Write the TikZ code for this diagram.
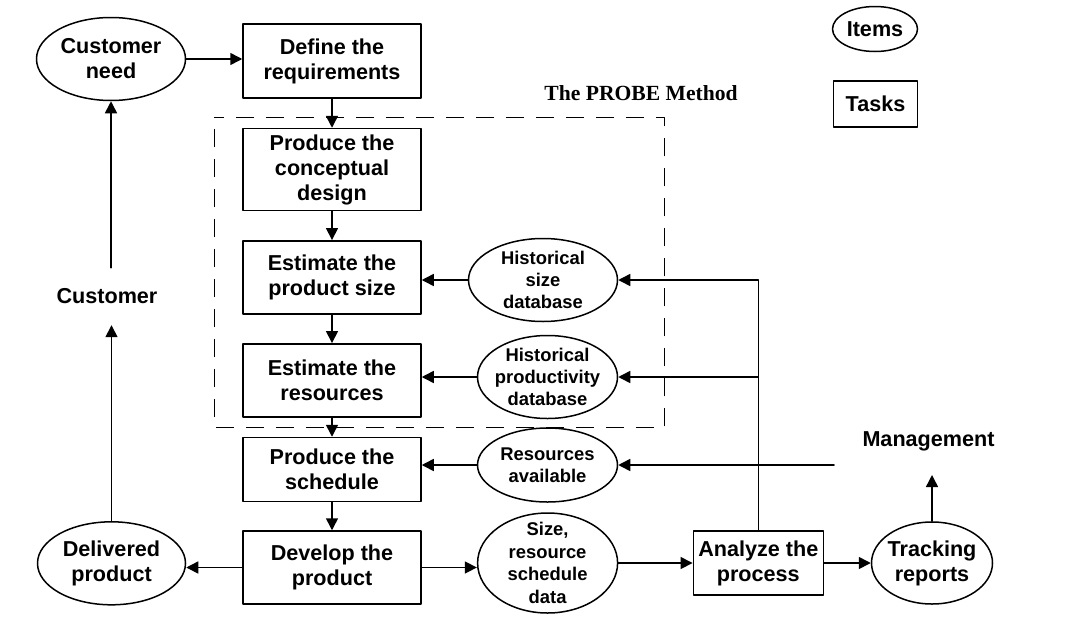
\documentclass[tikz,border=0pt]{standalone}
\usepackage{fontspec}
\setmainfont{Liberation Sans}
\newfontfamily\titlefont{Liberation Serif}
\usepackage{pgf,tikz}
\usetikzlibrary{arrows.meta, shapes.geometric}
\usetikzlibrary{positioning}

\begin{document}
\begin{tikzpicture}[line cap=round,line join=round,>={Triangle[length=12pt,width=12pt]},x=1pt,y=1pt]
  \tikzset{
  % style for the task boxes
  task/.style={draw, line width=1.5pt, rectangle, align=center, inner sep=2pt,
    minimum width=178pt, font=\fontsize{21.6}{25}\selectfont\bfseries},
  % style for the item ellipses (size set by minimum width/height)
  item/.style={draw, line width=1.5pt, ellipse, align=center, inner xsep=-30pt,
    inner ysep=-20pt, font=\fontsize{21.6}{25}\selectfont\bfseries},
  data/.style={item, font=\fontsize{18.4}{22.4}\selectfont\bfseries},
  flow/.style={->, line width=1.5pt},
  plain/.style={font=\fontsize{21.6}{25}\selectfont\bfseries, inner sep=0pt},
}
\useasboundingbox (0,0) rectangle (1067,-624);

\draw[line width=1pt, line cap=butt, dash pattern=on 18pt off 12pt, dash phase=18pt] (214.3,-117.3) rectangle (664.6,-427.7);
\node[plain, font=\titlefont\fontsize{21.6}{25}\selectfont\bfseries] (probe) at (641,-93) {The PROBE Method};

\node[item, minimum width=149pt, minimum height=83pt] (cneed) at (111,-59) {Customer\\need};
\node[task, minimum height=74pt] (defreq) at (332,-61) {Define the\\requirements};
\node[task, minimum height=82pt] (concept) at (332,-169.5) {Produce the\\conceptual\\design};
\node[task, minimum height=73pt] (estsize) at (332,-277.3) {Estimate the\\product size};
\node[task, minimum height=73pt] (estres) at (332,-380.3) {Estimate the\\resources};
\node[task, minimum height=64pt] (sched) at (332,-469.5) {Produce the\\schedule};
\node[task, minimum height=73pt] (develop) at (332,-567.5) {Develop the\\product};
\node[item, minimum width=148pt, minimum height=83pt] (delivered) at (111.5,-563.3) {Delivered\\product};

\node[data, minimum width=149pt, minimum height=83pt] (histsize) at (543,-280) {Historical\\size\\database};
\node[data, minimum width=140pt, minimum height=83pt] (histprod) at (547.5,-377) {Historical\\productivity\\database};
\node[data, minimum width=140pt, minimum height=74pt] (resavail) at (547.5,-465) {Resources\\available};
\node[data, minimum width=140pt, minimum height=100pt] (sizedata) at (547.6,-563) {Size,\\resource\\schedule\\data};

\node[task, minimum width=130pt, minimum height=64pt] (analyze) at (758.3,-563) {Analyze the\\process};
\node[item, minimum width=121pt, minimum height=82pt] (tracking) at (932,-563) {Tracking\\reports};

\node[item, minimum width=85pt, minimum height=45pt] (items) at (875,-29) {Items};
\node[task, minimum width=84pt, minimum height=46pt] (tasks) at (875.5,-104) {Tasks};

\node[plain, minimum height=57pt] (customer) at (107,-296.5) {Customer};
\node[plain] (mgmt) at (928.5,-441) {Management};
\coordinate (mgmtin) at (834,-465);
\coordinate (mgmtup) at (930,-475);

\draw[flow] (cneed.east) -- (cneed.east -| defreq.west);
\foreach \a/\b in {defreq/concept, concept/estsize, estsize/estres, estres/sched, sched/develop}
  \draw[flow] (\a) -- (\b);
\foreach \a/\b in {histsize/estsize, histprod/estres, resavail/sched}
  \draw[flow] (\a.west) -- (\a.west -| \b.east);
\draw[flow] (analyze.north) |- (histsize.east);
\draw[flow] (analyze.north) |- (histprod.east);
\draw[flow] (mgmtin) -- (resavail.east);
\draw[flow] (develop.east) -- (develop.east -| sizedata.west);
\draw[flow] (sizedata) -- (analyze);
\draw[flow] (analyze) -- (tracking);
\draw[flow] (tracking.north) -- (tracking.north |- mgmtup);
\draw[flow] (develop.west) -- (develop.west -| delivered.east);
\draw[flow] (delivered.north) -- (delivered.north |- customer.south);
\draw[flow] (cneed.south |- customer.north) -- (cneed.south);
\end{tikzpicture}
\end{document}
